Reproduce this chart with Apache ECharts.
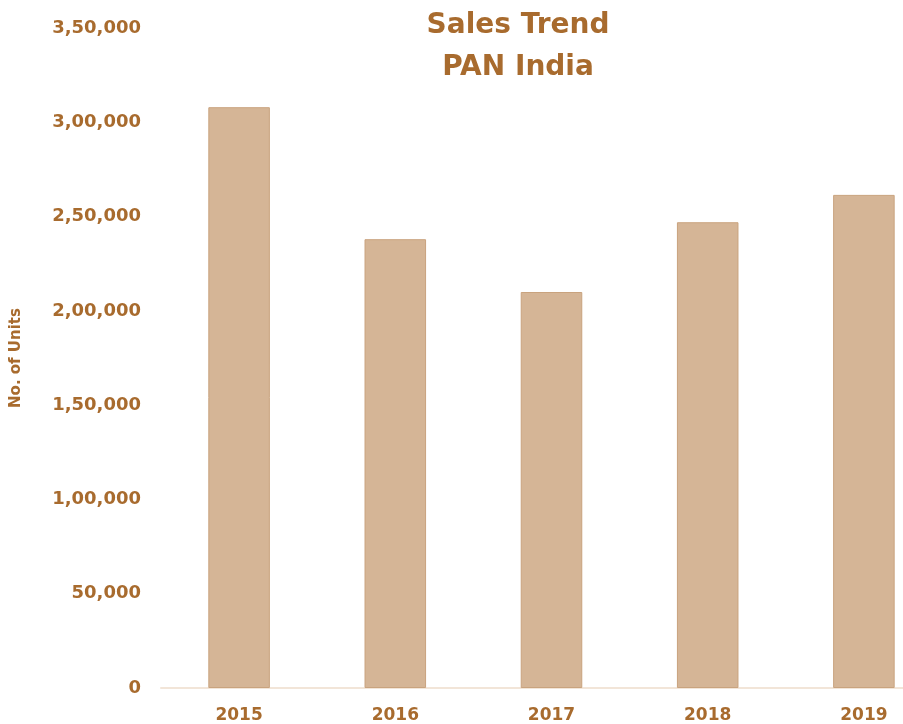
<!DOCTYPE html>
<html>
<head>
<meta charset="utf-8">
<script src="https://cdn.jsdelivr.net/npm/echarts@6/dist/echarts.min.js"></script>
<style>
  html, body { margin: 0; padding: 0; background: #ffffff; overflow: hidden; }
  /* the plot runs past the right edge of the page, so the canvas is wider than the view */
  #chart { width: 960px; height: 724px; }
</style>
</head>
<body>
<div id="chart"></div>
<script>
// Annual unit sales, PAN India
const years = ['2015', '2016', '2017', '2018', '2019'];
const units = [308000, 238000, 210000, 247000, 261500];

const textColor = '#a86b2e';
const fontFamily = '"DejaVu Sans", sans-serif';

// Indian digit grouping: 350000 -> 3,50,000
function indianFormat(n) {
  const s = String(Math.round(n));
  if (s.length <= 3) return s;
  const last3 = s.slice(-3);
  let rest = s.slice(0, -3);
  const parts = [];
  while (rest.length > 2) {
    parts.unshift(rest.slice(-2));
    rest = rest.slice(0, -2);
  }
  if (rest.length) parts.unshift(rest);
  return parts.join(',') + ',' + last3;
}

const chart = echarts.init(document.getElementById('chart'));
chart.setOption({
  animation: false,
  title: {
    text: 'Sales Trend\nPAN India',
    left: 513,
    top: 0,
    textAlign: 'center',
    textStyle: {
      color: textColor,
      fontFamily: fontFamily,
      fontWeight: 'bold',
      fontSize: 28,
      lineHeight: 42
    }
  },
  grid: { left: 161, top: 28, width: 781, height: 660 },
  xAxis: {
    type: 'category',
    data: years,
    axisLine: { lineStyle: { color: '#f2e5d8', width: 2 } },
    axisTick: { show: false },
    axisLabel: {
      color: textColor,
      fontFamily: fontFamily,
      fontWeight: 'bold',
      fontSize: 17,
      margin: 19
    }
  },
  yAxis: {
    type: 'value',
    min: 0,
    max: 350000,
    interval: 50000,
    name: 'No. of Units',
    nameLocation: 'middle',
    nameGap: 137,
    nameTextStyle: {
      color: textColor,
      fontFamily: fontFamily,
      fontWeight: 'bold',
      fontSize: 15
    },
    axisLine: { show: false },
    axisTick: { show: false },
    splitLine: { show: false },
    axisLabel: {
      color: textColor,
      fontFamily: fontFamily,
      fontWeight: 'bold',
      fontSize: 18,
      margin: 20,
      formatter: indianFormat
    }
  },
  series: [{
    type: 'bar',
    data: units,
    barWidth: '39.4%',
    itemStyle: {
      color: '#d5b596',
      borderColor: '#c9a37e',
      borderWidth: 1
    }
  }]
});
</script>
</body>
</html>
